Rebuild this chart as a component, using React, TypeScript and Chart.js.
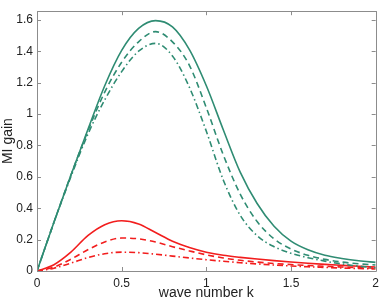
import React, { useEffect, useRef } from "react";
import { Chart, registerables } from "chart.js";

Chart.register(...registerables);

const kValues = [0, 0.1, 0.2, 0.3, 0.4, 0.5, 0.6, 0.7, 0.8, 0.9, 1.0, 1.1, 1.2, 1.3, 1.4, 1.5, 1.6, 1.7, 1.8, 1.9, 2.0];

const tealSolid = [0, 0.31, 0.61, 0.9, 1.18, 1.405, 1.545, 1.595, 1.555, 1.41, 1.18, 0.9, 0.63, 0.43, 0.285, 0.19, 0.135, 0.1, 0.08, 0.065, 0.055];
const tealDashed = [0, 0.31, 0.61, 0.89, 1.14, 1.33, 1.46, 1.525, 1.46, 1.31, 1.04, 0.74, 0.49, 0.315, 0.205, 0.14, 0.1, 0.074, 0.057, 0.046, 0.038];
const tealDashDot = [0, 0.31, 0.6, 0.87, 1.09, 1.27, 1.4, 1.45, 1.37, 1.17, 0.89, 0.58, 0.355, 0.225, 0.155, 0.113, 0.085, 0.063, 0.045, 0.031, 0.02];

const redSolid = [0, 0.04, 0.12, 0.225, 0.295, 0.32, 0.3, 0.245, 0.19, 0.15, 0.12, 0.1, 0.087, 0.076, 0.066, 0.057, 0.049, 0.042, 0.036, 0.03, 0.025];
const redDashed = [0, 0.025, 0.075, 0.135, 0.185, 0.21, 0.205, 0.185, 0.155, 0.128, 0.103, 0.083, 0.068, 0.057, 0.048, 0.041, 0.035, 0.03, 0.025, 0.021, 0.018];
const redDashDot = [0, 0.018, 0.05, 0.085, 0.11, 0.12, 0.117, 0.107, 0.095, 0.083, 0.072, 0.062, 0.053, 0.045, 0.038, 0.032, 0.027, 0.023, 0.019, 0.016, 0.013];

const xTicks = [0, 0.5, 1, 1.5, 2];
const yTicks = [0, 0.2, 0.4, 0.6, 0.8, 1, 1.2, 1.4, 1.6];

const TEAL = "#2f8c73";
const RED = "#f21d1d";

const toPoints = (ys: number[]) => kValues.map((k, i) => ({ x: k, y: ys[i] }));

const boxPlugin = {
  id: "matlabBox",
  afterDraw(chart: any) {
    const { ctx, chartArea } = chart;
    const { left, right, top, bottom } = chartArea;
    const xs = chart.scales.x;
    const ys = chart.scales.y;
    ctx.save();
    ctx.strokeStyle = "#8c8c8c";
    ctx.lineWidth = 1;
    ctx.beginPath();
    ctx.rect(Math.round(left) + 0.5, Math.round(top) + 0.5, Math.round(right - left), Math.round(bottom - top));
    const tl = 4;
    xTicks.forEach((v) => {
      const px = Math.round(xs.getPixelForValue(v)) + 0.5;
      ctx.moveTo(px, bottom);
      ctx.lineTo(px, bottom - tl);
      ctx.moveTo(px, top);
      ctx.lineTo(px, top + tl);
    });
    yTicks.forEach((v) => {
      const py = Math.round(ys.getPixelForValue(v)) + 0.5;
      ctx.moveTo(left, py);
      ctx.lineTo(left + tl, py);
      ctx.moveTo(right, py);
      ctx.lineTo(right - tl, py);
    });
    ctx.stroke();
    ctx.restore();
  },
};

export default function App() {
  const ref = useRef<HTMLCanvasElement | null>(null);
  useEffect(() => {
    if (!ref.current) return;
    Chart.defaults.font.family = "'Liberation Sans', Arial, sans-serif";
    const mk = (label: string, ys: number[], color: string, dash: number[]) => ({
      label,
      data: toPoints(ys),
      borderColor: color,
      backgroundColor: color,
      borderWidth: 1.6,
      borderDash: dash,
      pointRadius: 0,
      fill: false,
      cubicInterpolationMode: "monotone" as const,
    });
    const chart = new Chart(ref.current, {
      type: "line",
      data: {
        datasets: [
          mk("teal solid", tealSolid, TEAL, []),
          mk("teal dashed", tealDashed, TEAL, [6, 4]),
          mk("teal dash-dot", tealDashDot, TEAL, [6, 3, 1.5, 3]),
          mk("red solid", redSolid, RED, []),
          mk("red dashed", redDashed, RED, [6, 4]),
          mk("red dash-dot", redDashDot, RED, [6, 3, 1.5, 3]),
        ],
      },
      options: {
        responsive: false,
        animation: false,
        layout: { padding: { top: 2, right: 5, left: 0, bottom: 0 } },
        plugins: { legend: { display: false }, tooltip: { enabled: false } },
        scales: {
          x: {
            type: "linear",
            min: 0,
            max: 2,
            grid: { display: false, drawTicks: false },
            border: { display: false },
            afterBuildTicks: (s: any) => {
              s.ticks = xTicks.map((v) => ({ value: v }));
            },
            afterFit: (s: any) => {
              s.height = 29;
            },
            ticks: {
              padding: 5,
              color: "#222",
              font: { size: 12 },
              maxRotation: 0,
              callback: (v: any) => String(v),
            },
            title: {
              display: true,
              text: "wave number k",
              color: "#222",
              font: { size: 14, lineHeight: 1 },
              padding: { top: 0, bottom: 0 },
            },
          },
          y: {
            type: "linear",
            min: 0,
            max: 1.655,
            grid: { display: false, drawTicks: false },
            border: { display: false },
            afterBuildTicks: (s: any) => {
              s.ticks = yTicks.map((v) => ({ value: v }));
            },
            afterFit: (s: any) => {
              s.width = 37;
            },
            ticks: {
              padding: 4,
              color: "#222",
              font: { size: 12 },
              callback: (v: any) => String(v),
            },
            title: {
              display: true,
              text: "MI gain",
              color: "#222",
              font: { size: 14 },
              padding: { top: 0, bottom: 0 },
            },
          },
        },
      },
      plugins: [boxPlugin],
    });
    return () => chart.destroy();
  }, []);
  return (
    <div style={{ position: "absolute", left: 0, top: 0, width: 384, height: 300, background: "#fff" }}>
      <canvas ref={ref} width={384} height={300} />
    </div>
  );
}
